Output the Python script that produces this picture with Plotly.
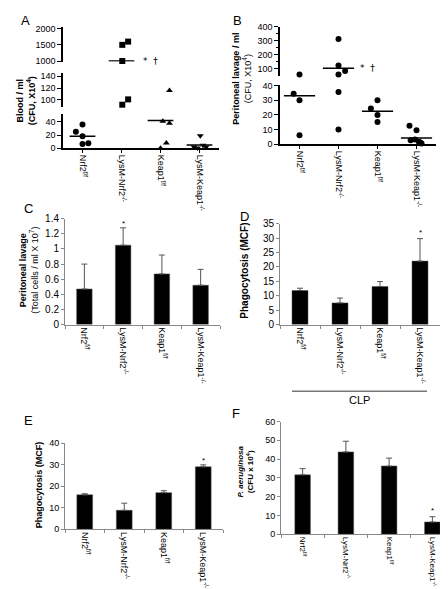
import plotly.graph_objects as go

W, H = 448, 589
FONT = "Liberation Sans, Arial, sans-serif"

groups = ["Nrf2<sup>f/f</sup>", "LysM-Nrf2<sup>-/-</sup>", "Keap1<sup>f/f</sup>", "LysM-Keap1<sup>-/-</sup>"]

# ---- Panel A: blood CFU (x10^4) ----
A_nrf2_ff = [36, 25, 18, 6.4, 7.4]
A_lysm_nrf2 = [1600, 1500, 1000, 101, 92]
A_keap1_ff = [116, 41, 38, 8, 0]
A_lysm_keap1 = [18.8, 4.4, 2, 0.5, 2]
A_median = [18, 1000, 42, 5]
A_jitter = [[0, -0.17, 0, 0, 0.15],
            [0.17, 0.02, 0.02, 0.17, 0.02],
            [0.23, 0.06, 0.23, 0.15, 0],
            [0.02, 0.09, -0.14, -0.05, 0.17]]

# ---- Panel B: peritoneal lavage CFU (x10^4) ----
B_nrf2_ff = [60, 34.4, 30, 6.2]
B_lysm_nrf2 = [312, 123, 84, 60, 35.6, 10]
B_keap1_ff = [30, 24.4, 20, 15.1]
B_lysm_keap1 = [12.7, 9.6, 3.3, 2.7, 1.8, 1.2, 0.5]
B_median = [33, 105, 22.5, 4.2]
B_jitter = [[0, -0.15, 0, 0],
            [0, 0, 0.17, 0, 0, 0],
            [0, -0.17, 0, 0],
            [-0.18, 0, -0.04, -0.15, 0.06, 0.1, 0.13]]

# ---- Bar panels ----
C_mean = [0.47, 1.05, 0.67, 0.52]
C_err = [0.33, 0.23, 0.25, 0.21]
D_mean = [11.8, 7.5, 13.2, 22.0]
D_err = [0.8, 1.7, 1.7, 7.8]
E_mean = [16.0, 8.8, 17.0, 29.0]
E_err = [0.5, 3.3, 0.9, 0.9]
F_mean = [31.6, 43.8, 36.3, 6.5]
F_err = [3.3, 5.7, 4.2, 2.8]


def fx(p):
    return p / W


def fy(p):
    return 1 - p / H


fig = go.Figure()

A_segments = [("y", 0, 52), ("y2", 88, 146), ("y3", 985, 2060)]
B_segments = [("y4", 0, 40.7), ("y5", 51, 400)]


def seg_for(v, segs):
    for name, lo, hi in segs:
        if v <= hi:
            return name
    return segs[-1][0]


def add_dot_panel(xaxis, values, jitter, medians, segs, half, symbols, size):
    for i, vals in enumerate(values):
        by_seg = {}
        for v, j in zip(vals, jitter[i]):
            s = seg_for(v, segs)
            by_seg.setdefault(s, ([], []))
            by_seg[s][0].append(i + j)
            by_seg[s][1].append(v)
        for yname, (xs, ys) in by_seg.items():
            fig.add_trace(go.Scatter(x=xs, y=ys, xaxis=xaxis, yaxis=yname, mode="markers",
                                     marker=dict(symbol=symbols[i], size=size, color="black"),
                                     cliponaxis=False, showlegend=False))
        m = medians[i]
        fig.add_trace(go.Scatter(x=[i - half, i + half], y=[m, m], xaxis=xaxis, yaxis=seg_for(m, segs),
                                 mode="lines", line=dict(color="black", width=1.5),
                                 cliponaxis=False, showlegend=False))


add_dot_panel("x", [A_nrf2_ff, A_lysm_nrf2, A_keap1_ff, A_lysm_keap1], A_jitter, A_median,
              A_segments, 0.33, ["circle", "square", "triangle-up", "triangle-down"], 6)
add_dot_panel("x2", [B_nrf2_ff, B_lysm_nrf2, B_keap1_ff, B_lysm_keap1], B_jitter, B_median,
              B_segments, 0.4, ["circle"] * 4, 6)


def add_bar(xaxis, yaxis, means, errs, width):
    fig.add_trace(go.Bar(x=groups, y=means, xaxis=xaxis, yaxis=yaxis, width=width,
                         marker=dict(color="black", line=dict(color="#555", width=0.5)),
                         error_y=dict(type="data", array=errs, arrayminus=[0] * len(errs),
                                      symmetric=False, color="#555", thickness=1, width=3),
                         showlegend=False))


add_bar("x3", "y6", C_mean, C_err, 0.4)
add_bar("x4", "y7", D_mean, D_err, 0.4)
add_bar("x5", "y8", E_mean, E_err, 0.4)
add_bar("x6", "y9", F_mean, F_err, 0.36)


def dot_x(domain, anchor):
    return dict(domain=domain, anchor=anchor, range=[-0.5, 3.5], tickmode="array",
                tickvals=[0, 1, 2, 3], ticktext=groups,
                tickangle=90, ticks="outside", ticklen=3, tickcolor="black", showline=True,
                linecolor="black", linewidth=1.5, showgrid=False, zeroline=False,
                tickfont=dict(family=FONT, size=9, color="black"))


def dot_y(domain, anchor, rng, tickvals, ticktext):
    return dict(domain=domain, anchor=anchor, range=rng, tickmode="array", tickvals=tickvals,
                ticktext=ticktext, ticks="outside", ticklen=4, tickcolor="black", tickwidth=1,
                showline=True, showticklabels=True,
                linecolor="black", linewidth=1.5, showgrid=False, zeroline=False,
                tickfont=dict(family=FONT, size=9, color="black"))


def bar_x(domain, anchor, size=9):
    return dict(domain=domain, anchor=anchor, type="category", range=[-0.5, 3.5], tickson="boundaries",
                tickangle=90, ticks="outside", ticklen=3, tickcolor="#888", showline=True,
                linecolor="#888", linewidth=1, showgrid=False, zeroline=False,
                tickfont=dict(family=FONT, size=size, color="black"))


def bar_y(domain, anchor, rng, dtick, size):
    return dict(domain=domain, anchor=anchor, range=rng, dtick=dtick, tick0=0, ticks="outside",
                ticklen=3, tickcolor="#888", showline=True, linecolor="#888", linewidth=1,
                showgrid=False, zeroline=False, tickfont=dict(family=FONT, size=size, color="black"))


fig.update_layout(
    width=W, height=H, margin=dict(l=0, r=0, t=0, b=0),
    plot_bgcolor="white", paper_bgcolor="white", showlegend=False,
    font=dict(family=FONT, color="black"),
    xaxis=dot_x([fx(55), fx(211)], "y"),
    yaxis=dot_y([fy(137), fy(102)], "x", [0, 52], [0, 20, 40], ["0", "20", "40"]),
    yaxis2=dot_y([fy(95), fy(60)], "x", [88, 146], [100, 120, 140], ["100", "120", "140"]),
    yaxis3=dot_y([fy(48.5), fy(13)], "x", [985, 2060], [1000, 1500, 2000], ["1000", "1500", "2000"]),
    xaxis2=dot_x([fx(272), fx(428)], "y4"),
    yaxis4=dot_y([fy(133), fy(72)], "x2", [0, 40.7], [0, 10, 20, 30, 40], ["0", "10", "20", "30", "40"]),
    yaxis5=dot_y([fy(63), fy(13)], "x2", [51, 400], [100, 200, 300, 400], ["100", "200", "300", "400"]),
    xaxis3=bar_x([fx(57), fx(212)], "y6"),
    yaxis6=bar_y([fy(317), fy(209)], "x3", [0, 1.4], 0.2, 10),
    xaxis4=bar_x([fx(272), fx(432)], "y7"),
    yaxis7=bar_y([fy(317), fy(214)], "x4", [0, 35], 5, 10),
    xaxis5=bar_x([fx(57), fx(215)], "y8"),
    yaxis8=bar_y([fy(526), fy(438)], "x5", [0, 40], 10, 9),
    xaxis6=bar_x([fx(273), fx(446)], "y9", 8),
    yaxis9=bar_y([fy(531), fy(416)], "x6", [0, 60], 10, 9),
)
fig.layout.yaxis5.minor = dict(ticks="outside", ticklen=2, dtick=50, tick0=0, tickcolor="black")

ann = []


def paper_text(x, y, text, size, angle=0, xanchor="center", yanchor="middle"):
    ann.append(dict(x=fx(x), y=fy(y), xref="paper", yref="paper", text=text, showarrow=False,
                    textangle=angle, xanchor=xanchor, yanchor=yanchor,
                    font=dict(family=FONT, size=size, color="black")))


def data_text(xref, yref, x, y, text, size, xanchor="center", family=FONT):
    ann.append(dict(x=x, y=y, xref=xref, yref=yref, text=text, showarrow=False, xanchor=xanchor,
                    yanchor="middle", font=dict(family=family, size=size, color="black")))


# panel letters
paper_text(17, 7, "A", 13)
paper_text(229, 7, "B", 13)
paper_text(20, 199, "C", 13)
paper_text(237, 207, "D", 13)
paper_text(20, 415, "E", 13)
paper_text(228, 408, "F", 13)

# axis titles
paper_text(18, 89, "<b>Blood / ml</b><br><b>(CFU, X10<sup>4</sup>)</b>", 9, -90)
paper_text(234, 66, "<b>Peritoneal lavage / ml</b><br>(CFU, X10<sup>4</sup>)", 9, -90)
paper_text(21, 262, "<b>Peritoneal lavage</b><br>(Total cells / ml X 10<sup>7</sup>)", 9, -90)
paper_text(237, 262, "<b>Phagocytosis (MCF)</b>", 10, -90)
paper_text(31, 481, "<b>Phagocytosis (MCF)</b>", 9, -90)
paper_text(237, 467, "<b><i>P. aeruginosa</i></b><br><b>(CFU x 10<sup>4</sup>)</b>", 8, -90)

# significance marks
SYM = "DejaVu Sans, sans-serif"
data_text("x", "y3", 1.5, 1000, "*  \u2020", 9, "left", SYM)
data_text("x", "y", 3.6, 4, "*", 10, "center", SYM)
data_text("x2", "y5", 1.5, 108, "*  \u2020", 9, "left", SYM)
data_text("x2", "y4", 3.65, 5, "*", 10, "center", SYM)
data_text("x3", "y6", 1, 1.34, "*", 8)
data_text("x4", "y7", 3, 31.8, "*", 8)
data_text("x5", "y8", 3, 31.8, "*", 8)
data_text("x6", "y9", 3, 12.6, "*", 8)

# CLP group line
paper_text(351, 394, "CLP", 11)
fig.update_layout(annotations=ann)
fig.add_shape(type="line", xref="paper", yref="paper", x0=fx(284), x1=fx(419), y0=fy(385), y1=fy(385),
              line=dict(color="#777", width=1.5))

fig.write_html("out.html")
